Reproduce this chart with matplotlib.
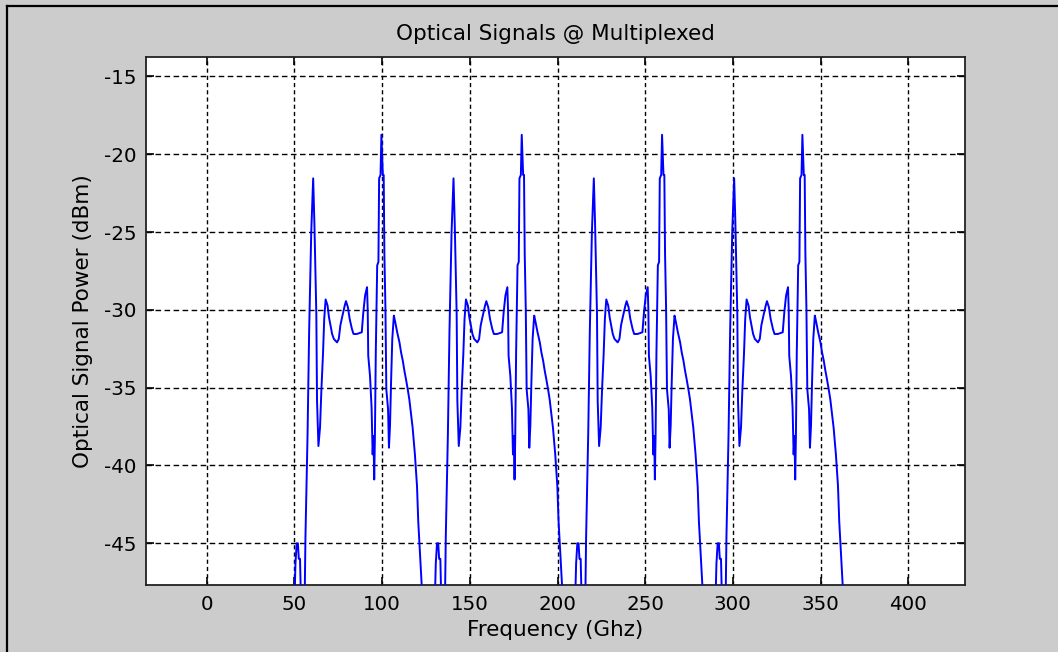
import numpy as np
import matplotlib
matplotlib.use("Agg")
import matplotlib.pyplot as plt
from matplotlib.lines import Line2D

plt.rcParams["axes.unicode_minus"] = False

# Spectrum of one multiplexed channel pair (frequency in GHz, power in dBm),
# given for the first channel block; the other blocks sit 80 GHz apart.
profile_freq = [
    50.0, 50.6, 51.3, 52.0, 52.5, 53.2, 53.8, 55.8, 56.3, 57.5,
    58.4, 59.6, 60.7, 61.4, 62.5, 62.9, 63.7, 64.6, 65.4, 66.3,
    67.0, 67.8, 68.9, 69.7, 70.6, 71.5, 72.5, 74.3, 75.3, 76.2,
    77.2, 78.7, 79.4, 80.5, 81.5, 82.8, 83.7, 85.6, 88.4, 89.3,
    90.3, 91.4, 91.8, 92.1, 93.1, 94.0, 94.6, 95.1, 95.5, 95.9,
    96.4, 97.2, 97.9, 98.3, 99.1, 99.6, 100.4, 100.9, 101.3, 101.9,
    102.4, 103.4, 103.9, 104.5, 105.1, 105.8, 106.7, 107.5, 108.6, 109.9,
    110.8, 111.8, 112.7, 113.6, 114.6, 115.5, 116.4, 117.4, 118.7, 119.9,
    120.6, 121.5, 122.5, 123.2,
]
profile_power = [
    -49.0, -46.3, -45.0, -45.0, -46.0, -46.0, -49.0, -49.0, -44.6, -38.0,
    -31.4, -25.0, -21.55, -24.45, -30.26, -35.85, -38.75, -37.57, -35.1, -32.84,
    -30.58, -29.33, -29.72, -30.47, -31.0, -31.55, -31.87, -32.09, -31.87, -31.0,
    -30.47, -29.72, -29.44, -29.83, -30.58, -31.23, -31.55, -31.55, -31.44, -30.15,
    -29.08, -28.54, -30.04, -32.95, -34.24, -36.28, -39.29, -38.11, -40.9, -38.11,
    -32.73, -27.14, -26.92, -21.55, -21.33, -18.75, -21.33, -21.33, -26.39, -29.94,
    -35.1, -36.39, -38.86, -37.46, -34.67, -31.87, -30.37, -30.8, -31.44, -32.09,
    -32.73, -33.27, -33.91, -34.45, -35.1, -35.74, -36.6, -37.57, -39.29, -41.33,
    -43.59, -45.42, -47.57, -49.0,
]
channel_shift = [0, 80, 160, 240]

x_ticks = [0, 50, 100, 150, 200, 250, 300, 350, 400]
y_ticks = [-45, -40, -35, -30, -25, -20, -15]

freq = np.concatenate([np.asarray(profile_freq) + s for s in channel_shift])
power = np.concatenate([np.asarray(profile_power) for _ in channel_shift])

fig = plt.figure(figsize=(10.58, 6.52), dpi=100, facecolor="#cccccc")
ax = fig.add_axes([0.1380, 0.1023, 0.7741, 0.8103])
ax.set_facecolor("white")

ax.plot(freq, power, color="#0000ff", linewidth=1.4, zorder=3)

ax.set_xlim(-34.6, 432.3)
ax.set_ylim(-47.7, -13.75)
ax.set_xticks(x_ticks)
ax.set_yticks(y_ticks)

for v in x_ticks:
    ax.axvline(v, color="black", linewidth=1.0, dashes=(3.0, 2.2), zorder=1)
for v in y_ticks:
    ax.axhline(v, color="black", linewidth=1.0, dashes=(4.0, 2.5), zorder=1)

ax.tick_params(direction="in", length=6, width=1.2, top=True, right=True,
               labelsize=14.3, colors="black", pad=7)
for sp in ax.spines.values():
    sp.set_linewidth(1.3)
    sp.set_color("#222222")

ax.set_title("Optical Signals @ Multiplexed", fontsize=15.5, pad=12)
ax.set_xlabel("Frequency (Ghz)", fontsize=15.5, labelpad=4)
ax.set_ylabel("Optical Signal Power (dBm)", fontsize=15.5, labelpad=8)

# window frame along the top and left edges
fig.add_artist(Line2D([6.5 / 1058, 1.0], [1 - 5.7 / 652, 1 - 5.7 / 652],
                      transform=fig.transFigure, color="black", linewidth=1.6))
fig.add_artist(Line2D([6.7 / 1058, 6.7 / 1058], [0.0, 1 - 5.7 / 652],
                      transform=fig.transFigure, color="black", linewidth=1.6))

fig.savefig("out.png", dpi=100, facecolor=fig.get_facecolor())
